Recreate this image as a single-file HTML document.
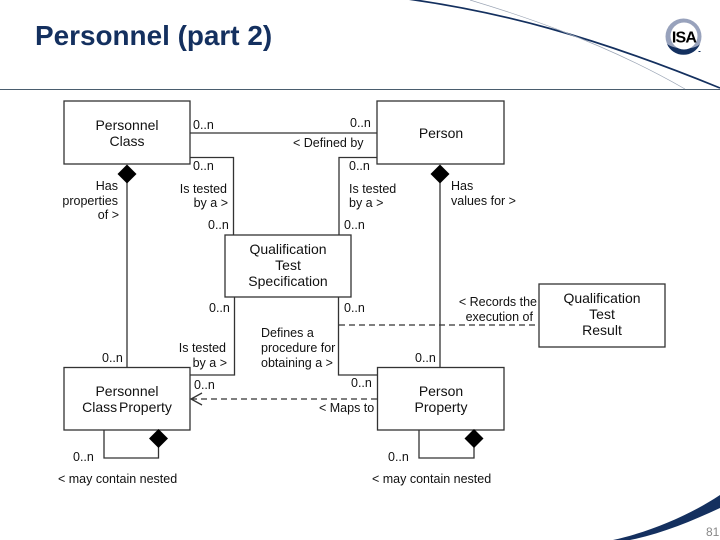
<!DOCTYPE html>
<html><head><meta charset="utf-8">
<style>
html,body{margin:0;padding:0;background:#fff}
svg{display:block}
text{font-family:"Liberation Sans",Arial,sans-serif;fill:#111}
.l{font-size:12.5px}
.n{font-size:14px}
.e{text-anchor:end}
.m{text-anchor:middle}
</style></head><body>
<svg width="720" height="540" viewBox="0 0 720 540" xmlns="http://www.w3.org/2000/svg">
<!-- header -->
<text x="35" y="45" style="font-size:27.9px;font-weight:bold;fill:#14305f">Personnel (part 2)</text>
<path d="M0 89.500H720" stroke="#4a5d6e" stroke-width="1"/>
<path d="M408 -1C500 12 590 35 720 88" fill="none" stroke="#14305f" stroke-width="1.7"/>
<path d="M470 0C510 12 600 40 685 89" fill="none" stroke="#9aa4b4" stroke-width="0.7"/>
<!-- logo -->
<circle cx="683.500" cy="36.500" r="18" fill="#98a2bc"/>
<path d="M667 44A18 18 0 0 0 700 44C695 50 675 50 667 44Z" fill="#14305f"/>
<circle cx="684" cy="36" r="13.500" fill="#fff"/>
<text x="684" y="42.500" class="m" style="font-size:16px;font-weight:bold;fill:#000;letter-spacing:-0.8px">ISA</text>
<rect x="698.500" y="51" width="2" height="1" fill="#14305f"/>
<!-- footer -->
<path d="M613 540C650 532 690 515 720 495V508C690 522 660 534 630 540Z" fill="#14305f"/>
<text x="706" y="536" style="font-size:12px;fill:#888">81</text>
<!-- connectors -->
<g fill="none" stroke="#333" stroke-width="1.3">
<path d="M190 133H377"/>
<path d="M190 157.500H233.500V235"/>
<path d="M377 157.500H339V235"/>
<path d="M127 180V367.500"/>
<path d="M440 180V367.500"/>
<path d="M234.500 297V375H190"/>
<path d="M338.500 297V375H377.500"/>
<path d="M104 430V458H158.500V445"/>
<path d="M419 430V458H474V445"/>
<path d="M339 325H539" stroke-dasharray="6 4"/>
<path d="M377 399H192" stroke-dasharray="6 4"/>
<path d="M202 393L191 399L202 405"/>
</g>
<!-- boxes -->
<g fill="#fff" stroke="#333" stroke-width="1.3">
<rect x="64" y="101" width="126" height="63"/>
<rect x="377" y="101" width="127" height="63"/>
<rect x="225" y="235" width="126" height="62"/>
<rect x="539" y="284" width="126" height="63"/>
<rect x="64" y="367.500" width="126" height="62.500"/>
<rect x="377.500" y="367.500" width="126.500" height="62.500"/>
</g>
<!-- diamonds -->
<g fill="#000">
<path d="M127 164.500L136.500 174L127 183.500L117.500 174Z"/>
<path d="M440 164.500L449.500 174L440 183.500L430.500 174Z"/>
<path d="M158.500 429L168 438.500L158.500 448L149 438.500Z"/>
<path d="M474 429L483.500 438.500L474 448L464.500 438.500Z"/>
</g>
<!-- box labels -->
<g class="m">
<text x="127" y="130" class="n m">Personnel</text>
<text x="127" y="146" class="n m">Class</text>
<text x="441" y="138" class="n m">Person</text>
<text x="288" y="254" class="n m">Qualification</text>
<text x="288" y="270" class="n m">Test</text>
<text x="288" y="286" class="n m">Specification</text>
<text x="602" y="303" class="n m">Qualification</text>
<text x="602" y="319" class="n m">Test</text>
<text x="602" y="335" class="n m">Result</text>
<text x="127" y="396" class="n m">Personnel</text>
<text x="127" y="412" class="n m" style="word-spacing:-2px">Class Property</text>
<text x="441" y="396" class="n m">Person</text>
<text x="441" y="412" class="n m">Property</text>
</g>
<!-- connector labels -->
<g class="l">
<text x="193" y="129" class="l">0..n</text>
<text x="350" y="127" class="l">0..n</text>
<text x="293" y="147" class="l">&lt; Defined by</text>
<text x="193" y="170" class="l">0..n</text>
<text x="349" y="170" class="l">0..n</text>
<text x="118" y="190" class="l e">Has</text>
<text x="118" y="205" class="l e">properties</text>
<text x="119" y="219" class="l e">of &gt;</text>
<text x="227" y="193" class="l e">Is tested</text>
<text x="228" y="207" class="l e">by a &gt;</text>
<text x="349" y="193" class="l">Is tested</text>
<text x="349" y="207" class="l">by a &gt;</text>
<text x="451" y="190" class="l">Has</text>
<text x="451" y="205" class="l">values for &gt;</text>
<text x="208" y="229" class="l">0..n</text>
<text x="344" y="229" class="l">0..n</text>
<text x="209" y="312" class="l">0..n</text>
<text x="344" y="312" class="l">0..n</text>
<text x="537" y="306" class="l e">&lt; Records the</text>
<text x="533" y="321" class="l e">execution of</text>
<text x="261" y="337" class="l">Defines a</text>
<text x="261" y="352" class="l">procedure for</text>
<text x="261" y="367" class="l">obtaining a &gt;</text>
<text x="102" y="362" class="l">0..n</text>
<text x="415" y="362" class="l">0..n</text>
<text x="226" y="352" class="l e">Is tested</text>
<text x="227" y="367" class="l e">by a &gt;</text>
<text x="194" y="389" class="l">0..n</text>
<text x="351" y="387" class="l">0..n</text>
<text x="319" y="412" class="l">&lt; Maps to</text>
<text x="73" y="461" class="l">0..n</text>
<text x="388" y="461" class="l">0..n</text>
<text x="58" y="483" class="l">&lt; may contain nested</text>
<text x="372" y="483" class="l">&lt; may contain nested</text>
</g>
</svg>
</body></html>
